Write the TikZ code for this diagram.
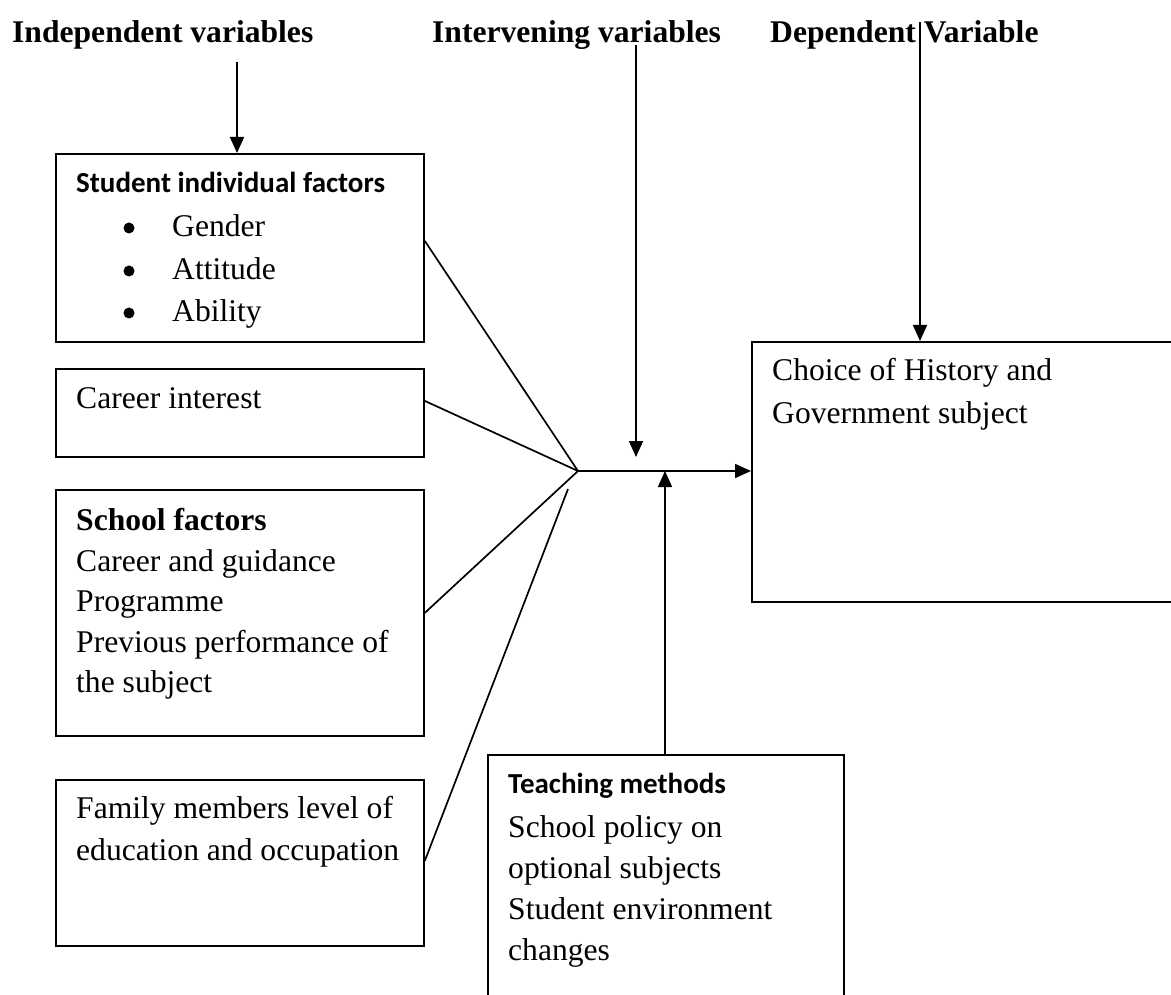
\documentclass[tikz,border=0pt]{standalone}
\usepackage{fontspec}
\setmainfont{Liberation Serif}
\newfontfamily\calib{Carlito}
\usetikzlibrary{arrows.meta}
\begin{document}
\begin{tikzpicture}[x=1pt,y=-1pt,
  box/.style={draw, line width=1.8pt, inner sep=0pt, anchor=north west},
  txt/.style={anchor=base west, inner sep=0pt, font=\fontsize{31.6}{42}\selectfont},
  hd/.style={anchor=base west, inner sep=0pt, font=\fontsize{31.6}{42}\selectfont\bfseries},
  sb/.style={anchor=base west, inner sep=0pt, font=\calib\fontsize{29}{36}\selectfont\bfseries},
  bul/.style={circle, fill=black, inner sep=0pt, minimum size=11pt},
  ln/.style={line width=1.7pt},
  arr/.style={line width=1.7pt, -{Triangle[length=16pt,width=14pt]}}]
\useasboundingbox (0,0) rectangle (1171,995);
\clip (0,0) rectangle (1171,995);

% boxes
\node[box, minimum width=368pt, minimum height=188pt] (b1) at (55,153) {};
\node[box, minimum width=368pt, minimum height=88pt]  (b2) at (55,368) {};
\node[box, minimum width=368pt, minimum height=246pt] (b3) at (55,489) {};
\node[box, minimum width=368pt, minimum height=166pt] (b4) at (55,779) {};
\node[box, minimum width=356pt, minimum height=270pt] (b5) at (487,754) {};
\node[box, minimum width=440pt, minimum height=260pt] (b6) at (751,341) {};

% headings
\node[hd] (h1) at (12,43) {Independent variables};
\node[hd] (h2) at (432,43) {Intervening variables};
\node[hd] (h3) at (770,43) {Dependent Variable};

% box 1
\node[sb] (t1) at (76,193) {Student individual factors};
\node[bul] (u1) at (129,228) {};
\node[bul] (u2) at (129,271) {};
\node[bul] (u3) at (129,313) {};
\node[txt] (g1) at (172,237) {Gender};
\node[txt] (g2) at (172,280) {Attitude};
\node[txt] (g3) at (172,322) {Ability};

% box 2
\node[txt] (t2) at (76,408) {Career interest};

% box 3
\node[hd] (t3) at (76,530) {School factors};
\node[txt] (s1) at (76,571) {Career and guidance};
\node[txt] (s2) at (76,611) {Programme};
\node[txt] (s3) at (76,652) {Previous performance of};
\node[txt] (s4) at (76,692) {the subject};

% box 4
\node[txt] (f1) at (76,818) {Family members level of};
\node[txt] (f2) at (76,860) {education and occupation};

% box 5
\node[sb] (t5) at (508,793) {Teaching methods};
\node[txt] (m1) at (508,837) {School policy on};
\node[txt] (m2) at (508,878) {optional subjects};
\node[txt] (m3) at (508,919) {Student environment};
\node[txt] (m4) at (508,960) {changes};

% box 6
\node[txt] (c1) at (772,381) {Choice of History and};
\node[txt] (c2) at (772,423) {Government subject};

% connectors
\coordinate (j) at (578,471);
\coordinate (fe) at (568,489);
\coordinate (a1s) at (237,62);
\coordinate (ivs) at (636,45);
\coordinate (ive) at (636,457);
\coordinate (dvs) at (920,22);
\coordinate (ups) at (665,754);

\draw[arr] (a1s) -- (a1s |- b1.north);
\draw[arr] (ivs) -- (ive);
\draw[arr] (dvs) -- (dvs |- b6.north);
\draw[arr] (j) -- (j -| b6.west);
\draw[arr] (ups) -- (ups |- j);

\draw[ln] ([yshift=7pt]b1.east) -- (j);
\draw[ln] ([yshift=12pt]b2.east) -- (j);
\draw[ln] (b3.east) -- (j);
\draw[ln] ([yshift=2pt]b4.east) -- (fe);
\end{tikzpicture}
\end{document}
